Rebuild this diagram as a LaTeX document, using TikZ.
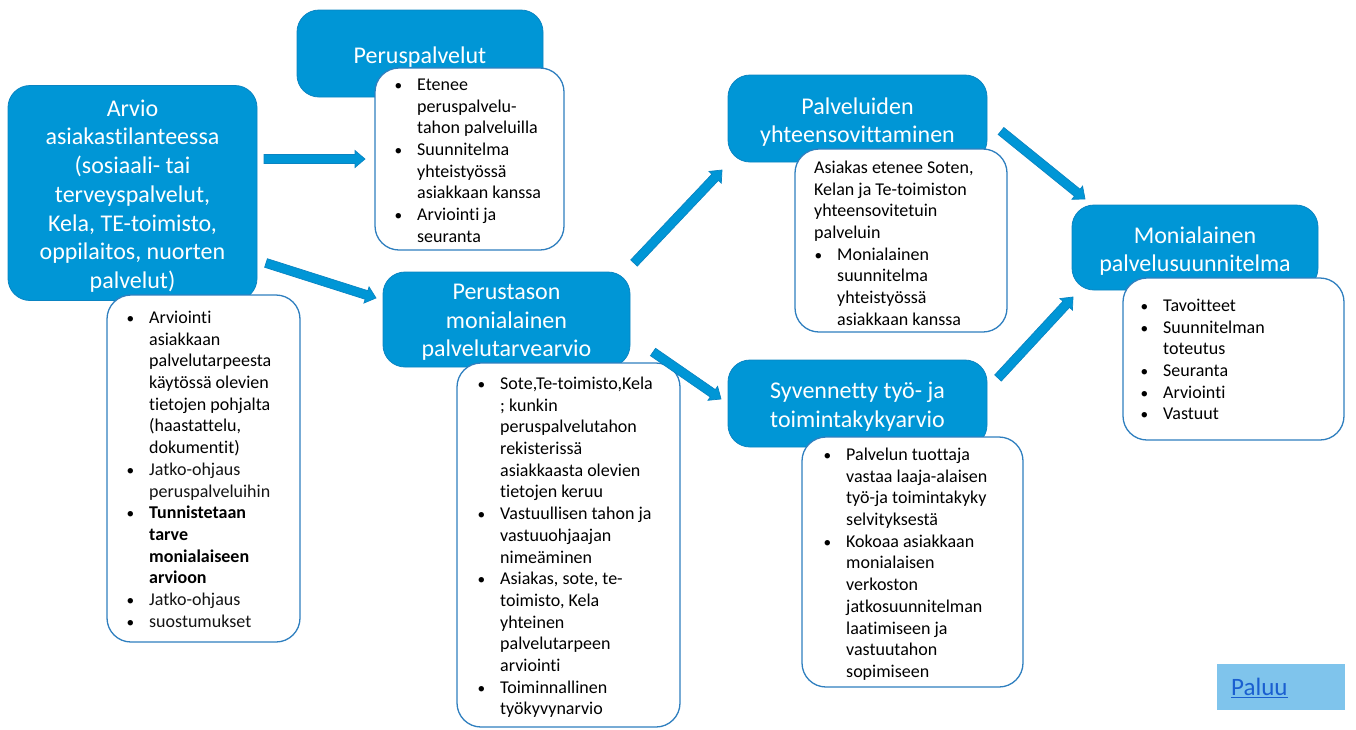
\documentclass[tikz,border=0pt]{standalone}
\usepackage{fontspec}
\setmainfont{Carlito}[Ligatures=NoCommon]
\usetikzlibrary{calc}
\definecolor{bbox}{HTML}{0096D6}
\definecolor{bboxline}{HTML}{0A84C2}
\definecolor{wline}{HTML}{2F7FBF}
\definecolor{paluubg}{HTML}{7FC4EC}
\definecolor{linkc}{HTML}{1A5FD0}
\definecolor{softtext}{HTML}{141414}
\newcommand{\bl}{\strut\makebox[23pt][l]{\hspace*{0.5pt}\scalebox{0.85}{\textbullet}}}
\newcommand{\ind}{\strut\hspace*{23pt}}
\newcommand{\blockarrow}[3]{%
  \coordinate (#3c) at ($(#2)!10pt!(#1)$);
  \draw[barrow] ($(#1)!4.5pt!90:(#2)$) -- ($(#3c)!4.5pt!-90:(#1)$) -- ($(#3c)!8.5pt!-90:(#1)$)
    -- (#2) -- ($(#3c)!8.5pt!90:(#1)$) -- ($(#3c)!4.5pt!90:(#1)$) -- ($(#1)!4.5pt!-90:(#2)$) -- cycle;}
\begin{document}
\begin{tikzpicture}[x=1pt,y=-1pt,
  hdr/.style={draw=bboxline, line width=0.8pt, fill=bbox, rounded corners=22pt, inner sep=0pt},
  htext/.style={text=white, align=center, font=\fontsize{24}{28.7}\selectfont, inner sep=0pt},
  wbox/.style={draw=wline, line width=1.3pt, fill=white, rounded corners=24pt, inner sep=0pt},
  btext/.style={anchor=north west, inner sep=0pt, align=left, font=\fontsize{18}{21.7}\selectfont, text=black},
  barrow/.style={fill=bbox, draw=bboxline, line width=0.7pt, line join=miter}]
\useasboundingbox (0,0) rectangle (1356,729);

% Arvio
\node[hdr, minimum width=249pt, minimum height=215pt] (arvio) at (132.5,193) {};
\node[htext] (arvioh) at (132.5,196)
  {Arvio\\asiakastilanteessa\\(sosiaali- tai\\terveyspalvelut,\\Kela, TE-toimisto,\\oppilaitos, nuorten\\palvelut)};
\node[wbox, minimum width=193pt, minimum height=347pt] (arviol) at (203.5,468.5) {};
\node[btext] (arviot) at (126,308) {\bl Arviointi\\ \ind asiakkaan\\ \ind palvelutarpeesta\\ \ind käytössä olevien\\
  \ind tietojen pohjalta\\ \ind (haastattelu,\\ \ind dokumentit)\\
  \bl \textcolor{softtext}{Jatko-ohjaus}\\ \ind \textcolor{softtext}{peruspalveluihin}\\
  \bl \textbf{Tunnistetaan}\\ \ind \textbf{tarve}\\ \ind \textbf{monialaiseen}\\ \ind \textbf{arvioon}\\
  \bl \textcolor{softtext}{Jatko-ohjaus}\\ \bl \textcolor{softtext}{suostumukset}};

% Peruspalvelut
\node[hdr, minimum width=246pt, minimum height=87pt] (perus) at (420,53.5) {};
\node[htext] (perush) at (420,57) {Peruspalvelut};
\node[wbox, minimum width=189pt, minimum height=182pt] (perusl) at (469.5,159) {};
\node[btext] (perust) at (394,75) {\bl Etenee\\ \ind peruspalvelu-\\ \ind tahon palveluilla\\
  \bl Suunnitelma\\ \ind yhteistyössä\\ \ind asiakkaan kanssa\\ \bl Arviointi ja\\ \ind seuranta};

% Perustason
\node[hdr, minimum width=247pt, minimum height=95pt] (pmon) at (506.5,319.5) {};
\node[htext] (pmonh) at (506.5,322.5) {Perustason\\monialainen\\palvelutarvearvio};
\node[wbox, minimum width=223pt, minimum height=364pt] (pmonl) at (568.5,545) {};
\node[btext] (pmont) at (477,374) {\bl Sote,Te-toimisto,Kela\\ \ind ; kunkin\\ \ind peruspalvelutahon\\
  \ind rekisterissä\\ \ind asiakkaasta olevien\\ \ind tietojen keruu\\
  \bl Vastuullisen tahon ja\\ \ind vastuuohjaajan\\ \ind nimeäminen\\
  \bl Asiakas, sote, te-\\ \ind toimisto, Kela\\ \ind yhteinen\\ \ind palvelutarpeen\\ \ind arviointi\\
  \bl Toiminnallinen\\ \ind työkyvynarvio};

% Palveluiden yhteensovittaminen
\node[hdr, minimum width=259pt, minimum height=87pt] (yht) at (857.5,118.5) {};
\node[htext] (yhth) at (857.5,122) {Palveluiden\\yhteensovittaminen};
\node[wbox, minimum width=212pt, minimum height=183pt] (yhtl) at (901,240.5) {};
\node[btext] (yhtt) at (814,158) {\strut Asiakas etenee Soten,\\ \strut Kelan ja Te-toimiston\\
  \strut yhteensovitetuin\\ \strut palveluin\\ \bl Monialainen\\ \ind suunnitelma\\
  \ind yhteistyössä\\ \ind asiakkaan kanssa};

% Syvennetty
\node[hdr, minimum width=259pt, minimum height=87pt] (syv) at (857.5,403.5) {};
\node[htext] (syvh) at (857.5,407) {Syvennetty työ- ja\\toimintakykyarvio};
\node[wbox, minimum width=221pt, minimum height=250pt] (syvl) at (912.5,562) {};
\node[btext] (syvt) at (823,445) {\bl Palvelun tuottaja\\ \ind vastaa laaja-alaisen\\
  \ind työ-ja toimintakyky\\ \ind selvityksestä\\ \bl Kokoaa asiakkaan\\ \ind monialaisen\\
  \ind verkoston\\ \ind jatkosuunnitelman\\ \ind laatimiseen ja\\ \ind vastuutahon\\ \ind sopimiseen};

% Monialainen palvelusuunnitelma
\node[hdr, minimum width=246pt, minimum height=85pt] (mps) at (1195,247.5) {};
\node[htext] (mpsh) at (1195,251) {Monialainen\\palvelusuunnitelma};
\node[wbox, minimum width=221pt, minimum height=162pt] (mpsl) at (1233.5,359) {};
\node[btext] (mpst) at (1140,296) {\bl Tavoitteet\\ \bl Suunnitelman\\ \ind toteutus\\
  \bl Seuranta\\ \bl Arviointi\\ \bl Vastuut};

% Paluu
\node[fill=paluubg, draw=none, minimum width=128pt, minimum height=46pt, inner sep=0pt] (paluubox) at (1281,687) {};
\node[anchor=west, inner sep=0pt, text=linkc, font=\fontsize{25}{30}\selectfont] (paluu) at (1231,688)
  {\underline{Paluu}};

% arrows
\coordinate (a1s) at (264,159);  \coordinate (a1e) at (365,159);
\coordinate (a2s) at (266,263);  \coordinate (a2e) at (376,298);
\coordinate (a3s) at (634,263);  \coordinate (a3e) at (722,170);
\coordinate (a4s) at (653,352);  \coordinate (a4e) at (721,399);
\coordinate (a5s) at (1001,131); \coordinate (a5e) at (1085,199);
\coordinate (a6s) at (998,378);  \coordinate (a6e) at (1073,297);
\blockarrow{a1s}{a1e}{a1}
\blockarrow{a2s}{a2e}{a2}
\blockarrow{a3s}{a3e}{a3}
\blockarrow{a4s}{a4e}{a4}
\blockarrow{a5s}{a5e}{a5}
\blockarrow{a6s}{a6e}{a6}
\end{tikzpicture}
\end{document}
